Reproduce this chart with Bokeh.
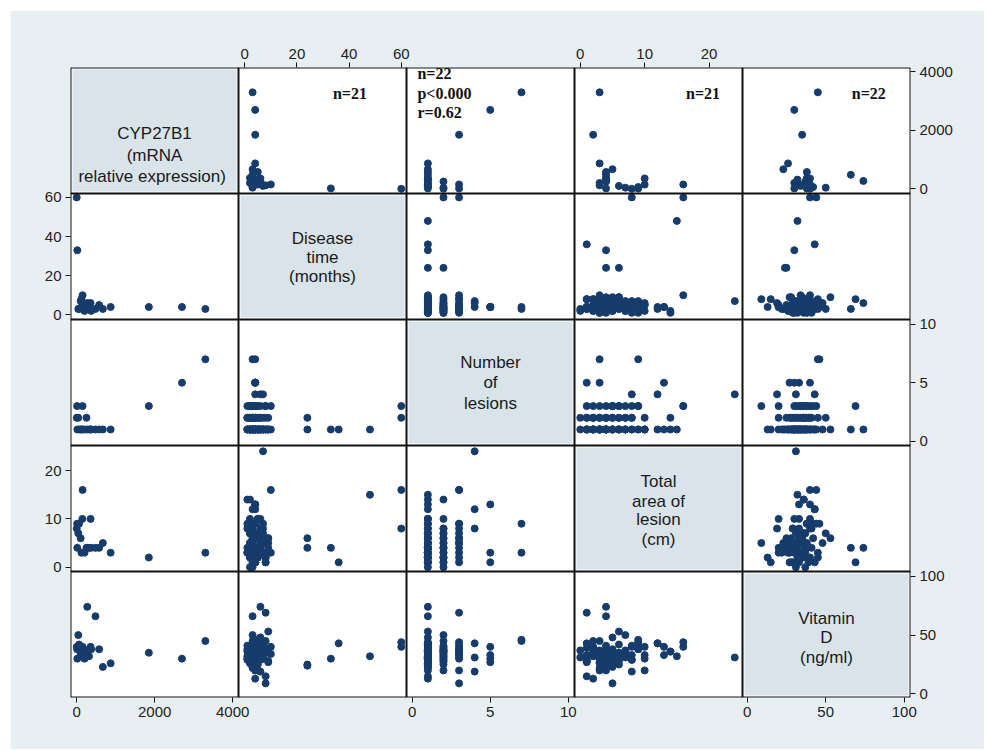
import numpy as np
from bokeh.plotting import figure
from bokeh.models import Range1d, LinearAxis, FixedTicker, Label, Span, CustomJSTickFormatter
from bokeh.embed import file_html
from bokeh.resources import INLINE

nan = float("nan")

# ---- data (one entry per patient; nan = missing) ----
cyp27b1 = [3300, 2700, 1850, 150, 10, 0, 40, 250, 870, 670, 575, 480, 370, 355, 270, 145, 315, 60, 15, 200, 100, 120,
           nan, nan, nan, nan, nan, nan, nan, nan, nan, nan, nan, nan, nan, nan, nan, nan, nan, nan, nan,
           nan, nan, nan, nan, nan, nan, nan, nan, nan, nan, nan, nan, nan, nan, nan, nan, nan, nan,
           nan, nan, nan, nan, nan, nan, nan, nan, nan, nan, nan, nan, nan, nan, nan, nan, nan, nan,
           nan, nan, nan, nan, nan, nan, nan, nan, nan, nan, nan, nan, nan, nan, nan, nan, nan, nan]
disease_time = [3, 4, 4, 10, nan, 60, 3, 4, 4, 3, 5, 3, 2, 6, 6, 5, 4, 3, 33, 2, 7, 8,
                4, 4, 4, 4, 7, 4, 6, 60, 8, 3, 2, 5, 3, 8, 4, 6, 2, 1, 3,
                24, 1, 2, 3, 4, 5, 6, 2, 3, 7, 4, 8, 1, 5, 3, 9, 2, 6,
                48, 36, 24, 1, 2, 3, 4, 5, 6, 7, 8, 9, 10, 2, 3, 4, 1, 5,
                6, 9, 2, 4, 3, 5, 7, 8, 2, 6, 4, 3, 9, 1, 5, 2, 7, 3]
n_lesions = [7, 5, 3, 3, 3, 2, 2, 2, 1, 1, 1, 1, 1, 1, 1, 1, 1, 1, 1, 1, 1, 1,
             7, 5, 5, 5, 4, 4, 4, 3, 3, 3, 3, 3, 3, 3, 3, 3, 3, 3, 3,
             2, 2, 2, 2, 2, 2, 2, 2, 2, 2, 2, 2, 2, 2, 2, 2, 2, 2,
             1, 1, 1, 1, 1, 1, 1, 1, 1, 1, 1, 1, 1, 1, 1, 1, 1, 1,
             1, 1, 1, 1, 1, 1, 1, 1, 1, 1, 1, 1, 1, 1, 1, 1, 1, 1]
total_area = [3, nan, 2, 16, 9, 8, 7, 4, 3, 5, 4, 4, 4, 10, 4, 10, 4, 9, 4, 3, 6, 3,
              9, 1, 13, 3, 24, 12, 8, 16, 1, 8, 7, 6, 5, 5, 3, 5, 4, 9, 6,
              6, 14, 10, 0, 1, 2, 3, 5, 6, 8, 4, 2, 3, 7, 1, 5, 2, 4,
              15, 1, 4, 8, 7, 2, 1, 6, 3, 5, 2, 4, 3, 5, 3, 7, 4, 2,
              8, 6, 14, 13, 12, 10, 9, 1, 0, 5, 2, 4, 6, 3, 4, 2, 7, 1]
vitamin_d = [45, 30, 35, 40, 38, 40, 50, 37, 26, 23, 38, 66, 38, 40, 74, 33, 32, 42, 30, 30, 34, 37,
             46, 33, 40, 27, 31, 43, 19, 44, 69, 33, 36, 42, 31, 9, 20, 34, 30, 38, 35,
             25, 36, 30, 31, 29, 33, 35, 38, 28, 41, 20, 45, 32, 36, 39, 27, 34, 37,
             32, 43, 24, 29, 31, 35, 27, 33, 36, 30, 39, 28, 34, 26, 22, 37, 41, 32,
             29, 53, 36, 33, 43, 20, 44, 15, 37, 48, 13, 31, 35, 30, 25, 40, 34, 28]

variables = [cyp27b1, disease_time, n_lesions, total_area, vitamin_d]
var_labels = [["CYP27B1", "(mRNA", "relative  expression)"],
              ["Disease", "time", "(months)"],
              ["Number", "of", "lesions"],
              ["Total", "area of", "lesion", "(cm)"],
              ["Vitamin", "D", "(ng/ml)"]]
axis_ticks = [[0, 2000, 4000], [0, 20, 40, 60], [0, 5, 10], [0, 10, 20], [0, 50, 100]]
axis_bounds = [(-160, 4150), (-2.4, 62), (-0.37, 10.4), (-0.9, 25.2), (-3, 104)]
note_texts = {1: ["n=21"], 2: ["n=22", "p<0.000", "r=0.62"], 3: ["n=21"], 4: ["n=22"]}

# ---- layout / style settings ----
label_rows = [[0.479, 0.302, 0.135],
              [0.64, 0.49, 0.34],
              [0.656, 0.5, 0.333],
              [0.712, 0.558, 0.413, 0.254],
              [0.63, 0.474, 0.318]]
note_pos = {1: (0.663, [0.794], "center"), 2: (0.065, [0.952, 0.794, 0.643], "left"),
            3: (0.765, [0.794], "center"), 4: (0.752, [0.794], "center")}
x_above = [1, 3]
x_below = [0, 2, 4]
y_left = [1, 3]
y_right = [0, 2, 4]

BG = "#e8eff2"
DIAG = "#d9e4ea"
DOT = "#173c6c"
N = 5

p = figure(frame_width=840, frame_height=630,
           x_range=Range1d(0, N), y_range=Range1d(0, N),
           output_backend="svg", toolbar_location=None,
           x_axis_location=None, y_axis_location=None,
           min_border=0, min_border_left=60, min_border_right=74,
           min_border_top=57, min_border_bottom=52)
p.margin = (10, 0, 0, 10)
p.xgrid.visible = False
p.ygrid.visible = False
p.outline_line_color = None
p.background_fill_color = "white"
p.border_fill_color = BG

# one scale per variable, placed on its column (x) and its row (y)
xr, yr = {}, {}
for v, (lo, hi) in enumerate(axis_bounds):
    span = hi - lo
    xr[f"x{v}"] = Range1d(lo - v * span, hi + (N - 1 - v) * span)
    b = N - 1 - v
    yr[f"y{v}"] = Range1d(lo - b * span, hi + (N - 1 - b) * span)
p.extra_x_ranges = xr
p.extra_y_ranges = yr

# diagonal cells
p.quad(left=[i + 0.012 for i in range(N)], right=[i + 0.988 for i in range(N)],
       bottom=[N - 1 - i + 0.016 for i in range(N)], top=[N - i - 0.016 for i in range(N)],
       fill_color=DIAG, line_color=None)

for r in range(N):
    for c in range(N):
        if r == c:
            for txt, fy in zip(var_labels[r], label_rows[r]):
                p.add_layout(Label(x=c + 0.5, y=(N - 1 - r) + fy, text=txt,
                                   text_align="center", text_baseline="middle",
                                   text_font="Liberation Sans", text_font_size="17px",
                                   text_color="#1a1a1a"))
        else:
            p.scatter(x=np.array(variables[c], dtype=float), y=np.array(variables[r], dtype=float),
                      x_range_name=f"x{c}", y_range_name=f"y{r}",
                      size=7, marker="circle", fill_color=DOT, line_color=DOT)

for c, lines in note_texts.items():
    fx, fys, align = note_pos[c]
    for txt, fy in zip(lines, fys):
        p.add_layout(Label(x=c + fx, y=(N - 1) + fy, text=txt,
                           text_align=align, text_baseline="middle",
                           text_font="Liberation Serif", text_font_style="bold",
                           text_font_size="16px", text_color="#111111"))

# cell borders
for k in range(N + 1):
    p.add_layout(Span(location=k, dimension="height", line_color="#111111", line_width=2))
    p.add_layout(Span(location=k, dimension="width", line_color="#111111", line_width=2))


def side_axis(cells, vertical):
    pos, labs = [], []
    for cell in cells:
        lo, hi = axis_bounds[cell]
        band = (N - 1 - cell) if vertical else cell
        for t in axis_ticks[cell]:
            pos.append(band + (t - lo) / (hi - lo))
            labs.append(str(t))
    order = sorted(range(len(pos)), key=lambda i: pos[i])
    pos = [pos[i] for i in order]
    labs = [labs[i] for i in order]
    ax = LinearAxis(ticker=FixedTicker(ticks=pos),
                    formatter=CustomJSTickFormatter(args=dict(labels=labs), code="return labels[index];"))
    ax.axis_line_color = None
    ax.major_tick_line_color = "#111111"
    ax.major_tick_out = 5
    ax.major_tick_in = 0
    ax.minor_tick_line_color = None
    ax.major_label_text_font = "Liberation Sans"
    ax.major_label_text_font_size = "15px"
    ax.major_label_text_color = "#222222"
    ax.major_label_standoff = 4
    return ax


p.add_layout(side_axis(x_above, False), "above")
p.add_layout(side_axis(x_below, False), "below")
p.add_layout(side_axis(y_left, True), "left")
p.add_layout(side_axis(y_right, True), "right")

open("out.html", "w").write(file_html(p, INLINE))
